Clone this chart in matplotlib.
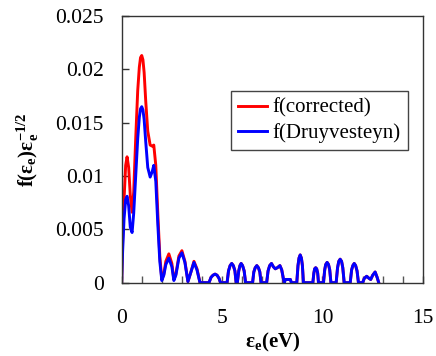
import matplotlib
matplotlib.use("Agg")
import matplotlib.pyplot as plt
from matplotlib.ticker import MultipleLocator, FuncFormatter

plt.rcParams['font.family'] = ['Liberation Serif', 'DejaVu Serif']
plt.rcParams['mathtext.fontset'] = 'custom'
plt.rcParams['mathtext.rm'] = 'Liberation Serif'
plt.rcParams['mathtext.bf'] = 'Liberation Serif:bold'
plt.rcParams['mathtext.it'] = 'Liberation Serif:italic'

# low-energy part (eV, value)
x_head = [0.0, 0.05, 0.12, 0.2, 0.27, 0.35, 0.43, 0.52, 0.6, 0.7, 0.8, 0.88, 0.94, 1.0,
          1.06, 1.12, 1.2, 1.3, 1.42, 1.52, 1.6, 1.7, 1.8, 1.9, 2.0, 2.1, 2.2, 2.35,
          2.5, 2.6, 2.7, 2.85, 3.0, 3.15, 3.3, 3.45, 3.6, 3.75, 3.9]
corrected_head = [0.0, 0.004, 0.0078, 0.011, 0.0118, 0.0108, 0.0082, 0.0066, 0.0085,
                  0.0135, 0.018, 0.0202, 0.0211, 0.0213, 0.0209, 0.0197, 0.017, 0.0142,
                  0.0129, 0.0128, 0.0129, 0.011, 0.0065, 0.0025, 0.0003, 0.0008, 0.002,
                  0.0027, 0.0018, 0.0003, 0.0008, 0.0025, 0.003, 0.002, 0.0001, 0.001,
                  0.002, 0.0013, 0.0]
druy_head = [0.0, 0.003, 0.006, 0.0078, 0.0081, 0.0072, 0.0052, 0.0047, 0.0065,
             0.01, 0.0135, 0.0155, 0.0163, 0.0165, 0.0162, 0.0153, 0.0132, 0.0108,
             0.0099, 0.0104, 0.011, 0.0095, 0.0055, 0.002, 0.0002, 0.0007, 0.0017,
             0.0023, 0.0015, 0.0002, 0.0007, 0.0023, 0.0028, 0.0019, 0.0001, 0.001,
             0.0019, 0.0012, 0.0]

# high-energy part, both curves on top of each other
x_tail = [4.35, 4.45, 4.55, 4.65, 4.75, 4.85, 4.92,
          5.25, 5.32, 5.4, 5.48, 5.56, 5.64, 5.7,
          5.76, 5.83, 5.89, 5.95, 6.02, 6.1, 6.17,
          6.52, 6.58, 6.65, 6.73, 6.81, 6.88, 6.94,
          7.22, 7.29, 7.37, 7.46, 7.55, 7.65, 7.75, 7.88, 7.97, 8.05, 8.1,
          8.15, 8.4, 8.45,
          8.72, 8.78, 8.83, 8.89, 8.95, 9.0, 9.05,
          9.52, 9.57, 9.61, 9.66, 9.71, 9.76, 9.8,
          10.05, 10.11, 10.16, 10.23, 10.3, 10.36, 10.42,
          10.68, 10.75, 10.81, 10.88, 10.95, 11.01, 11.08,
          11.38, 11.45, 11.51, 11.58, 11.65, 11.72, 11.79,
          12.0, 12.08, 12.2, 12.32, 12.4, 12.5, 12.62, 12.72, 12.8]
y_tail = [0.0, 0.0005, 0.0007, 0.0008, 0.0007, 0.0004, 0.0,
          0.0, 0.0011, 0.0016, 0.0018, 0.0016, 0.0011, 0.0,
          0.0, 0.0011, 0.0016, 0.0018, 0.0016, 0.0011, 0.0,
          0.0, 0.001, 0.0014, 0.0016, 0.0014, 0.001, 0.0,
          0.0, 0.0011, 0.0016, 0.0018, 0.0015, 0.0013, 0.0014, 0.0016, 0.0012, 0.0004, 0.0,
          0.0003, 0.0003, 0.0,
          0.0, 0.0016, 0.0023, 0.0026, 0.0023, 0.0016, 0.0,
          0.0, 0.0009, 0.0013, 0.0014, 0.0013, 0.0009, 0.0,
          0.0, 0.0012, 0.0017, 0.0019, 0.0017, 0.0012, 0.0,
          0.0, 0.0014, 0.002, 0.0022, 0.002, 0.0014, 0.0,
          0.0, 0.0012, 0.0016, 0.0018, 0.0016, 0.0011, 0.0,
          0.0, 0.0004, 0.0006, 0.0004, 0.0003, 0.0007, 0.001, 0.0005, 0.0]

x_vals = x_head + x_tail
f_corrected = corrected_head + y_tail
f_druyvesteyn = druy_head + y_tail

fig = plt.figure(figsize=(4.36, 3.56), dpi=100)
ax = fig.add_axes([0.279, 0.206, 0.691, 0.749])

ax.plot(x_vals, f_corrected, color='#ff0000', lw=2.1, label='f(corrected)')
ax.plot(x_vals, f_druyvesteyn, color='#0000ff', lw=2.1, label='f(Druyvesteyn)')

ax.set_xlim(0, 15)
ax.set_ylim(0, 0.025)
ax.xaxis.set_major_locator(MultipleLocator(5))
ax.xaxis.set_minor_locator(MultipleLocator(1))
ax.yaxis.set_major_locator(MultipleLocator(0.005))
ax.yaxis.set_major_formatter(FuncFormatter(lambda v, p: '%g' % round(v, 4)))
ax.tick_params(axis='x', which='both', direction='in', length=5, width=1,
               color='#555555', pad=19, labelsize=15.5, top=False)
ax.tick_params(axis='y', direction='in', length=5, width=1, color='#333333',
               pad=13, labelsize=15.5, right=False)
for s in ax.spines.values():
    s.set_color('#333333')
    s.set_linewidth(1)

ax.set_xlabel(r'$\mathbf{ε_e(eV)}$', fontsize=15, labelpad=2)
ax.set_ylabel(r'$\mathbf{f(ε_e)ε_e^{-1/2}}$', fontsize=15, labelpad=10)

leg = ax.legend(loc='upper left', bbox_to_anchor=(0.363, 0.719), fontsize=15,
                fancybox=False, edgecolor='#444444', framealpha=1,
                handlelength=1.4, handletextpad=0.25, borderpad=0.35,
                labelspacing=0.25, borderaxespad=0)
leg.get_frame().set_linewidth(1)

fig.savefig('out.png', dpi=100)
